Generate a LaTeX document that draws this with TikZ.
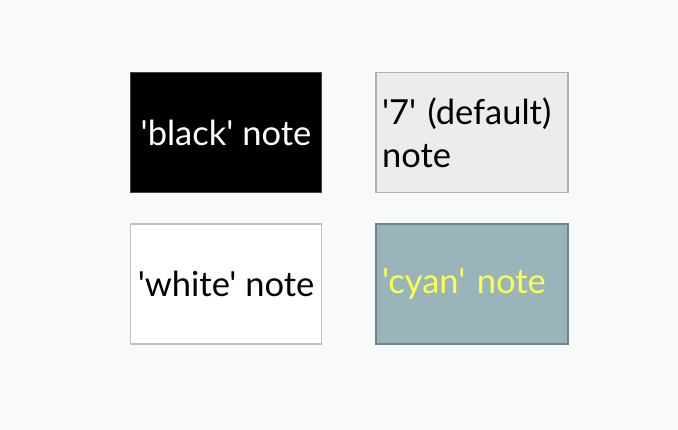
\documentclass[tikz,border=0pt]{standalone}
\usepackage{fontspec}
\newfontfamily\notefont{Lato}
\usetikzlibrary{positioning}
\definecolor{pagebg}{HTML}{F8F9FB}
\definecolor{blackline}{HTML}{444444}
\definecolor{greyfill}{HTML}{EBECEE}
\definecolor{greyline}{HTML}{B0B0B0}
\definecolor{whiteline}{HTML}{C0C0C0}
\definecolor{cyanfill}{HTML}{99B4BA}
\definecolor{cyanline}{HTML}{6F8488}
\definecolor{notetext}{HTML}{FFFF4D}
\tikzset{
    note/.style={draw, line width=1.5pt, minimum width=191pt, minimum height=120pt,
        inner xsep=6pt, font=\notefont\fontsize{34.5}{43}\selectfont},
    leftnote/.style={note, text width=180pt, align=left}
}
\begin{document}
\begin{tikzpicture}[x=1pt, y=-1pt]
        \fill[pagebg] (0, 0) rectangle (678, 430);
        \useasboundingbox (0, 0) rectangle (678, 430);
        \node[note, fill=black, draw=blackline, text=white] (black) at (226, 132.5) {'black' note};
        \node[leftnote, fill=greyfill, draw=greyline] (default) at (472, 132.5) {'7' (default)\\note};
        \node[note, fill=white, draw=whiteline] (white) at (226, 284) {'white' note};
        \node[leftnote, fill=cyanfill, draw=cyanline, text=notetext] (cyan) at (472, 284) {'cyan' note};
    \end{tikzpicture}
\end{document}
